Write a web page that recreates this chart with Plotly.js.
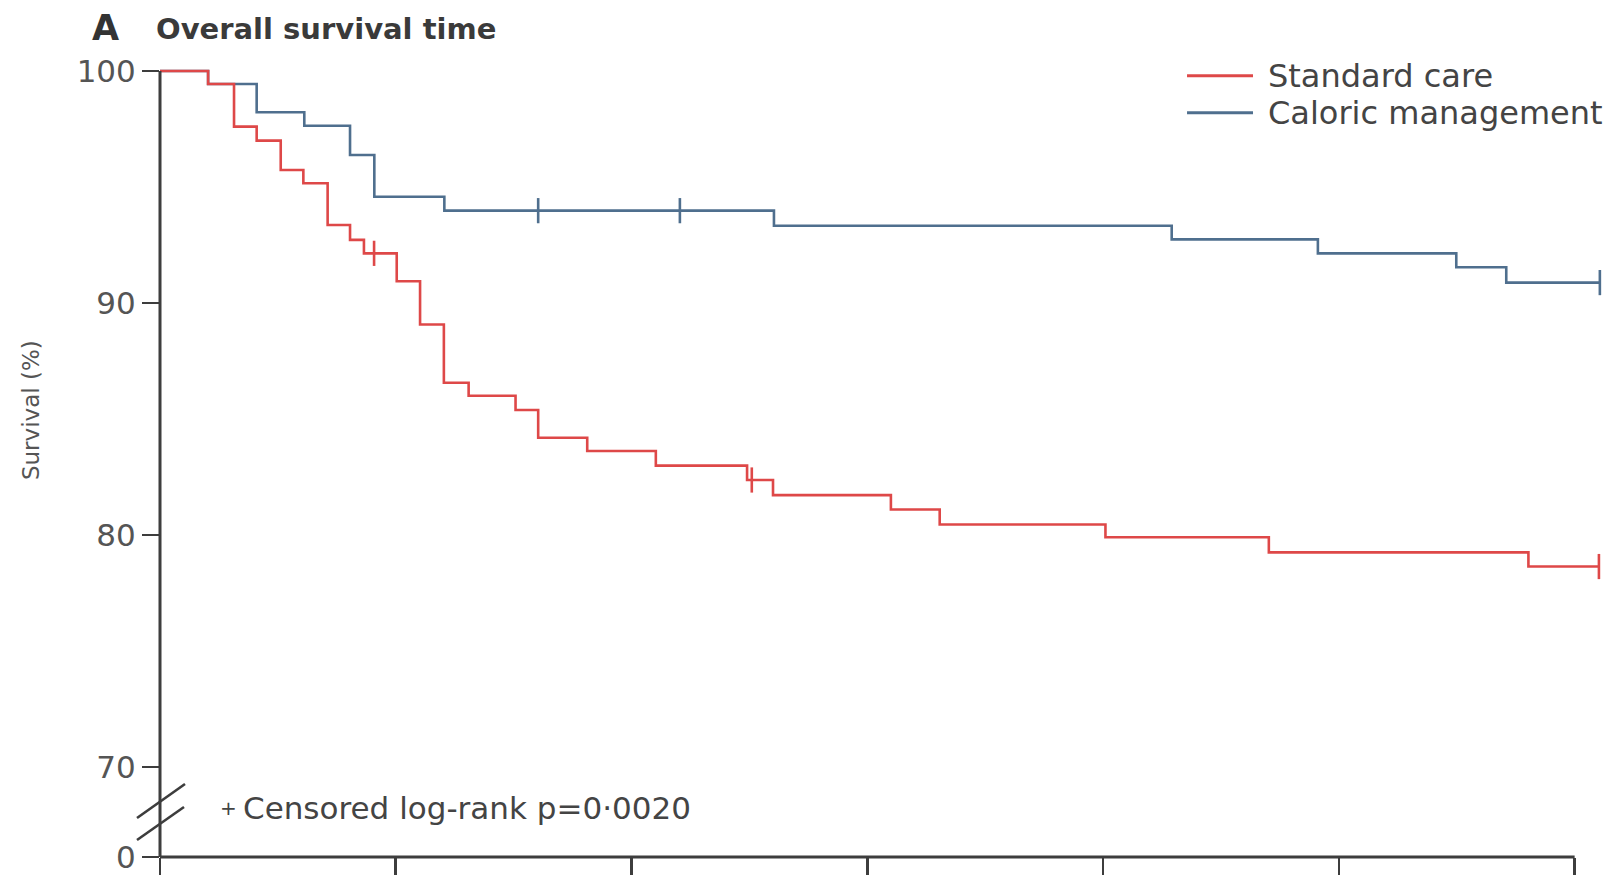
<!DOCTYPE html>
<html>
<head>
<meta charset="utf-8">
<script src="https://cdn.plot.ly/plotly-3.0.1.min.js"></script>
<style>
  html, body { margin: 0; padding: 0; background: #ffffff; }
  #chart { width: 1619px; height: 875px; }
</style>
</head>
<body>
<div id="chart"></div>
<script>
const seriesNames = ["Standard care", "Caloric management"];

// Standard care: step times and survival (%)
const standardTimes = [0, 0.204, 0.314, 0.41, 0.512, 0.608, 0.711, 0.806, 0.865, 1.004, 1.103, 1.204, 1.309, 1.508, 1.604, 1.812, 2.103, 2.49, 2.60, 3.10, 3.307, 4.01, 4.703, 5.804, 6.103];
const standardSurvival = [100, 99.44, 97.6, 97.0, 95.73, 95.16, 93.36, 92.72, 92.14, 90.94, 89.07, 86.56, 86.0, 85.39, 84.19, 83.62, 82.99, 82.37, 81.72, 81.1, 80.45, 79.9, 79.25, 78.64, 78.64];
const standardCensorTimes = [0.908, 2.51, 6.103];
const standardCensorSurvival = [92.14, 82.37, 78.64];

// Caloric management: step times and survival (%)
const caloricTimes = [0, 0.204, 0.41, 0.612, 0.806, 0.909, 1.206, 2.604, 4.291, 4.911, 5.498, 5.71, 6.107];
const caloricSurvival = [100, 99.44, 98.22, 97.64, 96.38, 94.58, 93.98, 93.33, 92.74, 92.14, 91.54, 90.88, 90.88];
const caloricCensorTimes = [1.604, 2.205, 6.107];
const caloricCensorSurvival = [93.98, 93.98, 90.88];

// Axis ticks
const xTickValues = [0, 1, 2, 3, 4, 5, 6];
const yTickLabels = ["0", "70", "80", "90", "100"];
const yTickNumbers = [0, 70, 80, 90, 100];

// ---- Broken y axis: 0 is drawn just below 70 ----
const BREAK_LOW = 70;          // first value above the break
const BREAK_GAP = 3.88;        // axis units used to show the collapsed 0–70 span
const zeroPos = BREAK_LOW - BREAK_GAP;
const yTickValues = yTickNumbers.map(v => v < BREAK_LOW ? zeroPos : v);

const RED = "#de4848";
const BLUE = "#4f6f8e";
const AXIS = "#3d3d3d";
const TEXT = "#3a3a3a";
const FONT = "DejaVu Sans, Liberation Sans, sans-serif";
const seriesColors = [RED, BLUE];

const traces = [
  {
    x: caloricTimes, y: caloricSurvival, name: seriesNames[1],
    type: "scatter", mode: "lines", line: {shape: "hv", color: BLUE, width: 2.6},
    showlegend: false
  },
  {
    x: caloricCensorTimes, y: caloricCensorSurvival, name: seriesNames[1] + " (censored)",
    type: "scatter", mode: "markers", showlegend: false, cliponaxis: false,
    marker: {symbol: "line-ns", size: 18, line: {color: BLUE, width: 2.6}}
  },
  {
    x: standardTimes, y: standardSurvival, name: seriesNames[0],
    type: "scatter", mode: "lines", line: {shape: "hv", color: RED, width: 2.6},
    showlegend: false
  },
  {
    x: standardCensorTimes, y: standardCensorSurvival, name: seriesNames[0] + " (censored)",
    type: "scatter", mode: "markers", showlegend: false, cliponaxis: false,
    marker: {symbol: "line-ns", size: 18, line: {color: RED, width: 2.6}}
  }
];

// Legend drawn as line samples + labels (paper coordinates)
const legendRowsY = [0.9791, 0.9327];
const legendShapes = seriesNames.map((n, i) => ({
  type: "line", xref: "paper", yref: "paper",
  x0: 0.7083, x1: 0.7538, y0: legendRowsY[i], y1: legendRowsY[i],
  line: {color: seriesColors[i], width: 3}
}));
const legendLabels = seriesNames.map((n, i) => ({
  text: n, xref: "paper", yref: "paper", x: 0.7628, y: legendRowsY[i],
  xanchor: "left", yanchor: "middle", showarrow: false,
  font: {family: FONT, size: 32, color: "#444"}
}));

const layout = {
  width: 1619, height: 875,
  margin: {l: 160, r: 9, t: 59, b: 18, pad: 0},
  paper_bgcolor: "#ffffff", plot_bgcolor: "#ffffff",
  font: {family: FONT, color: TEXT, size: 30},
  showlegend: false,
  xaxis: {
    range: [0, 6.15], showgrid: false, zeroline: false, showline: false,
    tickmode: "array", tickvals: xTickValues, showticklabels: false,
    ticks: "outside", ticklen: 18, tickwidth: 2.6, tickcolor: AXIS
  },
  yaxis: {
    range: [zeroPos, 100.517], showgrid: false, zeroline: false, showline: false,
    tickmode: "array", tickvals: yTickValues, ticktext: yTickLabels,
    ticks: "outside", ticklen: 17, tickwidth: 2.6, tickcolor: AXIS,
    tickfont: {family: FONT, size: 31, color: "#555"}
  },
  shapes: [
    // y axis line
    {type: "line", xref: "paper", x0: 0, x1: 0, yref: "y", y0: zeroPos, y1: 100,
     line: {color: AXIS, width: 3}},
    // x axis line
    {type: "line", xref: "x", x0: 0, x1: 6, yref: "paper", y0: 0, y1: 0,
     line: {color: AXIS, width: 3}},
    // axis break marks
    {type: "line", xref: "paper", xsizemode: "pixel", xanchor: 0, x0: -23, x1: 25,
     yref: "paper", ysizemode: "pixel", yanchor: 0, y0: 39, y1: 73,
     line: {color: AXIS, width: 2.6}},
    {type: "line", xref: "paper", xsizemode: "pixel", xanchor: 0, x0: -23, x1: 24,
     yref: "paper", ysizemode: "pixel", yanchor: 0, y0: 17, y1: 50,
     line: {color: AXIS, width: 2.6}}
  ].concat(legendShapes),
  annotations: [
    {text: "<b>A</b>", xref: "paper", yref: "paper", x: -0.0483, y: 1.0385,
     xanchor: "left", yanchor: "middle", showarrow: false,
     font: {family: FONT, size: 35, color: "#333"}},
    {text: "<b>Overall survival time</b>", xref: "paper", yref: "paper", x: -0.004, y: 1.0376,
     xanchor: "left", yanchor: "middle", showarrow: false,
     font: {family: FONT, size: 29, color: "#3a3a3a"}},
    {text: "Survival (%)", xref: "paper", yref: "paper", x: -0.089, y: 0.56,
     xanchor: "center", yanchor: "middle", textangle: -90, showarrow: false,
     font: {family: FONT, size: 23, color: "#555"}},
    {text: "+", xref: "paper", yref: "paper", x: 0.047, y: 0.0614,
     xanchor: "center", yanchor: "middle", showarrow: false,
     font: {family: FONT, size: 20, color: "#444"}},
    {text: "Censored log-rank p=0·0020",
     xref: "paper", yref: "paper", x: 0.0559, y: 0.0614,
     xanchor: "left", yanchor: "middle", showarrow: false,
     font: {family: FONT, size: 31, color: "#444"}}
  ].concat(legendLabels)
};

Plotly.newPlot("chart", traces, layout, {displayModeBar: false, staticPlot: true});
</script>
</body>
</html>
